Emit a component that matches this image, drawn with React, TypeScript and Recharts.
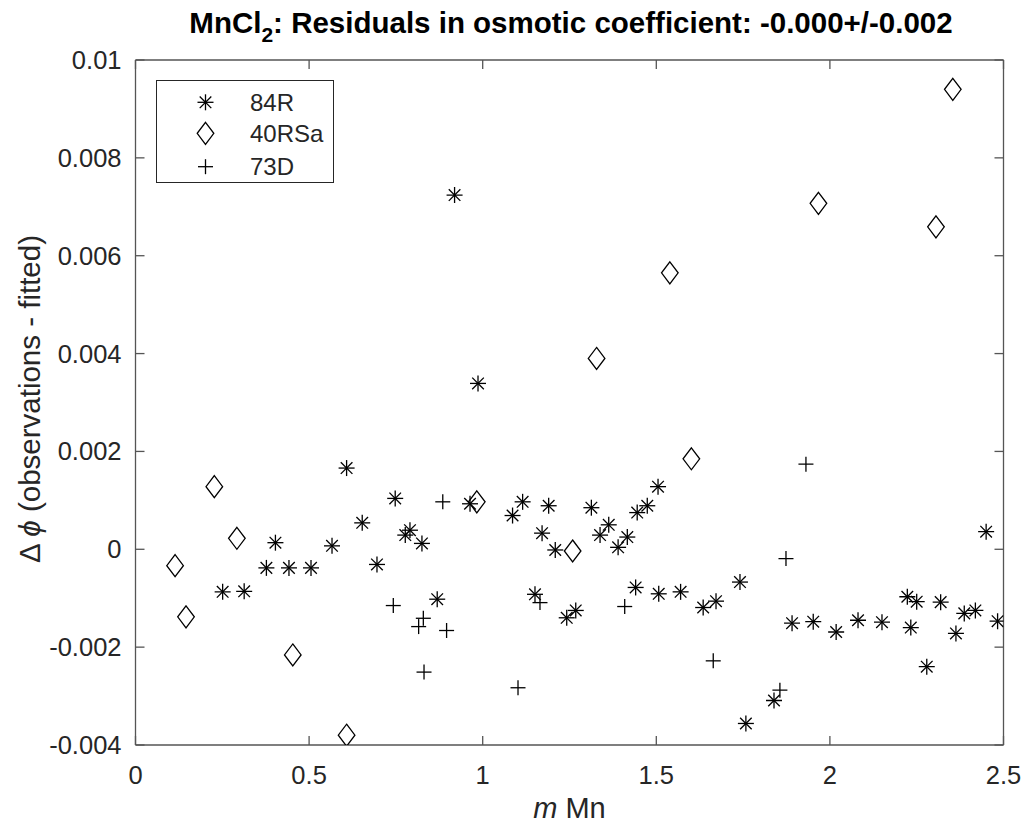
import React from 'react';
import { ScatterChart, Scatter, XAxis, YAxis, Legend, Customized } from 'recharts';

// ---- tick values / labels ----
const xTicks = [0, 0.5, 1, 1.5, 2, 2.5];
const xTickLabels = ['0', '0.5', '1', '1.5', '2', '2.5'];
const yTicks = [-0.004, -0.002, 0, 0.002, 0.004, 0.006, 0.008, 0.01];
const yTickLabels = ['-0.004', '-0.002', '0', '0.002', '0.004', '0.006', '0.008', '0.01'];

// ---- series: 84R (asterisks) ----
const r84X = [0.251, 0.313, 0.377, 0.403, 0.442, 0.5055, 0.566, 0.608, 0.653, 0.6955, 0.748, 0.777, 0.7905, 0.825, 0.869, 0.919, 0.9635, 0.9865, 1.086, 1.115, 1.1506, 1.171, 1.19, 1.209, 1.242, 1.268, 1.313, 1.338, 1.363, 1.39, 1.4165, 1.4405, 1.445, 1.474, 1.505, 1.507, 1.57, 1.635, 1.672, 1.741, 1.758, 1.839, 1.891, 1.952, 2.018, 2.081, 2.15, 2.223, 2.233, 2.25, 2.279, 2.319, 2.363, 2.387, 2.419, 2.45, 2.483];
const r84Y = [-0.00087, -0.00086, -0.00038, 0.000135, -0.00038, -0.00038, 0.00007, 0.00166, 0.00054, -0.00031, 0.00104, 0.00029, 0.00039, 0.00012, -0.00102, 0.00724, 0.00093, 0.00339, 0.00069, 0.00097, -0.00092, 0.00033, 0.00089, -0.000014, -0.0014, -0.00125, 0.00085, 0.00029, 0.0005, 0.00004, 0.00025, -0.00078, 0.00075, 0.00089, 0.00128, -0.00091, -0.00087, -0.00119, -0.00106, -0.00067, -0.00356, -0.00309, -0.00151, -0.00148, -0.00169, -0.00145, -0.00149, -0.00097, -0.0016, -0.00107, -0.0024, -0.00108, -0.00172, -0.00131, -0.00125, 0.00036, -0.00147];

// ---- series: 40RSa (diamonds) ----
const rsaX = [0.114, 0.1455, 0.227, 0.292, 0.453, 0.608, 0.983, 1.259, 1.328, 1.539, 1.601, 1.967, 2.3055, 2.354];
const rsaY = [-0.000335, -0.00138, 0.00128, 0.000225, -0.00216, -0.0038, 0.00097, -0.000035, 0.0039, 0.00565, 0.00185, 0.00707, 0.00659, 0.0094];

// ---- series: 73D (plus) ----
const d73X = [0.7425, 0.8155, 0.829, 0.831, 0.885, 0.896, 1.1017, 1.165, 1.409, 1.664, 1.856, 1.8735, 1.931];
const d73Y = [-0.00115, -0.00158, -0.00141, -0.00251, 0.00097, -0.00166, -0.00283, -0.00109, -0.00117, -0.00228, -0.00288, -0.00019, 0.00174];

const seriesNames = ['84R', '40RSa', '73D'];

const zip = (xs: number[], ys: number[]) => xs.map((x, i) => ({ x, y: ys[i] }));
const data84 = zip(r84X, r84Y);
const dataRsa = zip(rsaX, rsaY);
const data73 = zip(d73X, d73Y);

const AXIS = '#555555';
const TEXT = '#262626';
const FONT = '"Liberation Sans", Arial, Helvetica, sans-serif';
const MK = '#000000';
const MW = 1.3;

// ---- marker shapes ----
const Asterisk = ({ cx, cy }: any) => {
  if (cx == null || cy == null) return null;
  const r = 8;
  const d = 5.8;
  return (
    <g stroke={MK} strokeWidth={MW} fill="none">
      <line x1={cx - r} y1={cy} x2={cx + r} y2={cy} />
      <line x1={cx} y1={cy - r} x2={cx} y2={cy + r} />
      <line x1={cx - d} y1={cy - d} x2={cx + d} y2={cy + d} />
      <line x1={cx - d} y1={cy + d} x2={cx + d} y2={cy - d} />
    </g>
  );
};

const Diamond = ({ cx, cy }: any) => {
  if (cx == null || cy == null) return null;
  const w = 8.3;
  const h = 11;
  return (
    <path
      d={`M${cx},${cy - h}L${cx + w},${cy}L${cx},${cy + h}L${cx - w},${cy}Z`}
      stroke={MK}
      strokeWidth={MW}
      fill="none"
    />
  );
};

const Plus = ({ cx, cy }: any) => {
  if (cx == null || cy == null) return null;
  const r = 7.5;
  return (
    <g stroke={MK} strokeWidth={MW} fill="none">
      <line x1={cx - r} y1={cy} x2={cx + r} y2={cy} />
      <line x1={cx} y1={cy - r} x2={cx} y2={cy + r} />
    </g>
  );
};

const shapeByName: Record<string, any> = { '84R': Asterisk, '40RSa': Diamond, '73D': Plus };

// ---- ticks (inward, MATLAB style) ----
const TL = 9;
const BottomTick = (props: any) => {
  const { x, y, index } = props;
  return (
    <g>
      <line x1={x} y1={y} x2={x} y2={y - TL} stroke={AXIS} strokeWidth={1.3} />
      <text x={x} y={y + 39} textAnchor="middle" fontSize={25.5} fill={TEXT} fontFamily={FONT}>
        {xTickLabels[index]}
      </text>
    </g>
  );
};
const TopTick = (props: any) => {
  const { x, y } = props;
  return <line x1={x} y1={y} x2={x} y2={y + TL} stroke={AXIS} strokeWidth={1.3} />;
};
const LeftTick = (props: any) => {
  const { x, y, index } = props;
  return (
    <g>
      <line x1={x} y1={y} x2={x + TL} y2={y} stroke={AXIS} strokeWidth={1.3} />
      <text x={x - 14} y={y + 9} textAnchor="end" fontSize={25.5} fill={TEXT} fontFamily={FONT}>
        {yTickLabels[index]}
      </text>
    </g>
  );
};
const RightTick = (props: any) => {
  const { x, y } = props;
  return <line x1={x} y1={y} x2={x - TL} y2={y} stroke={AXIS} strokeWidth={1.3} />;
};

// ---- legend ----
const LegendBox = () => {
  const rows = [22.3, 53.3, 86.7];
  return (
    <svg width={179} height={104} style={{ display: 'block', overflow: 'visible' }}>
      <rect x={0.5} y={0.5} width={177} height={102} fill="#ffffff" stroke={TEXT} strokeWidth={1} />
      {seriesNames.map((name, i) => {
        const Shape = shapeByName[name];
        return (
          <g key={name}>
            <Shape cx={49.5} cy={rows[i]} />
            <text x={94} y={rows[i] + 8.5} fontSize={24} fill={TEXT} fontFamily={FONT}>
              {name}
            </text>
          </g>
        );
      })}
    </svg>
  );
};

// ---- titles ----
const Titles = () => (
  <g fontFamily={FONT} fill={TEXT}>
    <text x={571} y={33} textAnchor="middle" fontSize={29.5} fontWeight="bold" fill="#000">
      MnCl
      <tspan dy={9} fontSize={21}>2</tspan>
      <tspan dy={-9}>: Residuals in osmotic coefficient: -0.000+/-0.002</tspan>
    </text>
    <text x={569.5} y={818} textAnchor="middle" fontSize={29}>
      <tspan fontStyle="italic">m</tspan> Mn
    </text>
    <text x={40} y={399} textAnchor="middle" fontSize={29.5} transform="rotate(-90, 40, 399)">
      Δ <tspan fontStyle="italic">ϕ</tspan> (observations - fitted)
    </text>
  </g>
);

export default function App() {
  return (
    <div style={{ position: 'absolute', left: 0, top: 0, width: 1025, height: 827, background: '#fff' }}>
      <ScatterChart
        width={1025}
        height={827}
        margin={{ top: 59, right: 20.5, bottom: 0, left: 0 }}
        style={{ fontFamily: FONT }}
      >
        <XAxis
          xAxisId="b"
          type="number"
          dataKey="x"
          domain={[0, 2.5]}
          ticks={xTicks}
          allowDataOverflow
          height={82}
          tickSize={0}
          tickMargin={0}
          tickLine={false}
          axisLine={{ stroke: AXIS, strokeWidth: 1.3 }}
          tick={<BottomTick />}
          interval={0}
        />
        <XAxis
          xAxisId="t"
          orientation="top"
          type="number"
          dataKey="x"
          domain={[0, 2.5]}
          ticks={xTicks}
          allowDataOverflow
          height={1}
          tickSize={0}
          tickMargin={0}
          tickLine={false}
          axisLine={{ stroke: AXIS, strokeWidth: 1.3 }}
          tick={<TopTick />}
          interval={0}
        />
        <YAxis
          yAxisId="l"
          type="number"
          dataKey="y"
          domain={[-0.004, 0.01]}
          ticks={yTicks}
          allowDataOverflow
          width={135.5}
          tickSize={0}
          tickMargin={0}
          tickLine={false}
          axisLine={{ stroke: AXIS, strokeWidth: 1.3 }}
          tick={<LeftTick />}
          interval={0}
        />
        <YAxis
          yAxisId="r"
          orientation="right"
          type="number"
          dataKey="y"
          domain={[-0.004, 0.01]}
          ticks={yTicks}
          allowDataOverflow
          width={1}
          tickSize={0}
          tickMargin={0}
          tickLine={false}
          axisLine={{ stroke: AXIS, strokeWidth: 1.3 }}
          tick={<RightTick />}
          interval={0}
        />
        <Scatter
          name={seriesNames[0]}
          data={data84}
          xAxisId="b"
          yAxisId="l"
          shape={Asterisk}
          isAnimationActive={false}
        />
        <Scatter
          name={seriesNames[1]}
          data={dataRsa}
          xAxisId="b"
          yAxisId="l"
          shape={Diamond}
          isAnimationActive={false}
        />
        <Scatter
          name={seriesNames[2]}
          data={data73}
          xAxisId="b"
          yAxisId="l"
          shape={Plus}
          isAnimationActive={false}
        />
        <Legend
          layout="vertical"
          align="center"
          verticalAlign="middle"
          content={<LegendBox />}
          wrapperStyle={{ left: 156, top: 80, width: 179, height: 104, bottom: 'auto', right: 'auto' }}
        />
        <Customized component={Titles} />
      </ScatterChart>
    </div>
  );
}
